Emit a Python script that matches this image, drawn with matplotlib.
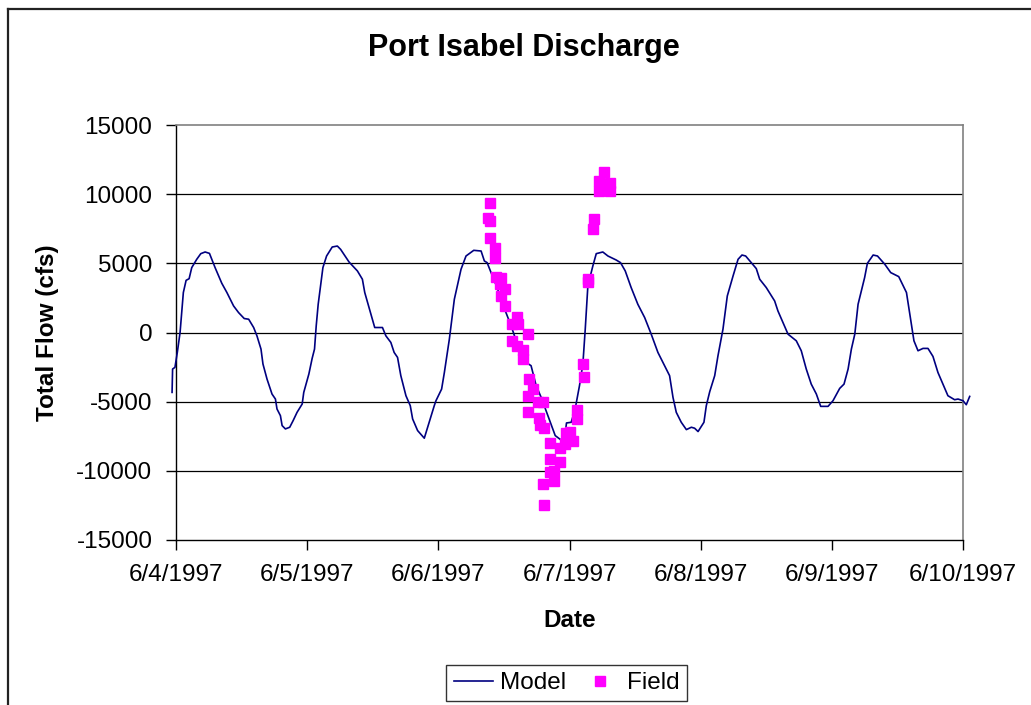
import matplotlib
matplotlib.use("Agg")
import matplotlib.pyplot as plt
from matplotlib.lines import Line2D

plt.rcParams['font.family'] = ['Liberation Sans', 'DejaVu Sans']
plt.rcParams['axes.unicode_minus'] = False

# model series: time in days after 6/4/1997 00:00, total flow in cfs
model_t = [-0.03, -0.026, -0.008, 0.01, 0.031, 0.056, 0.077, 0.10, 0.12, 0.158,
           0.189, 0.222, 0.255, 0.298, 0.349, 0.388, 0.42, 0.439, 0.477, 0.52,
           0.554, 0.592, 0.617, 0.648, 0.663, 0.694, 0.732, 0.758, 0.77, 0.796,
           0.809, 0.834, 0.867, 0.893, 0.923, 0.962, 0.974, 1.013, 1.038, 1.056,
           1.069, 1.084, 1.12, 1.148, 1.191, 1.23, 1.255, 1.319, 1.383, 1.421,
           1.439, 1.472, 1.515, 1.574, 1.6, 1.638, 1.663, 1.689, 1.714, 1.753,
           1.786, 1.804, 1.842, 1.893, 1.93, 1.969, 1.982, 2.025, 2.046, 2.084,
           2.122, 2.173, 2.211, 2.27, 2.326, 2.351, 2.372, 2.402, 2.448, 2.491,
           2.555, 2.606, 2.669, 2.707, 2.746, 2.784, 2.835, 2.891, 2.931, 2.962,
           2.977, 3.013, 3.043, 3.076, 3.102, 3.12, 3.14, 3.178, 3.204, 3.254,
           3.293, 3.356, 3.389, 3.425, 3.47, 3.521, 3.573, 3.623, 3.674, 3.725,
           3.763, 3.789, 3.814, 3.852, 3.891, 3.929, 3.954, 3.98, 4.025, 4.043,
           4.069, 4.107, 4.132, 4.17, 4.203, 4.247, 4.285, 4.315, 4.343, 4.386,
           4.424, 4.45, 4.5, 4.564, 4.589, 4.666, 4.729, 4.767, 4.805, 4.843,
           4.882, 4.915, 4.971, 5.009, 5.06, 5.093, 5.124, 5.149, 5.175, 5.2,
           5.25, 5.271, 5.315, 5.348, 5.404, 5.449, 5.51, 5.569, 5.593, 5.626,
           5.657, 5.695, 5.733, 5.771, 5.809, 5.847, 5.885, 5.936, 5.962, 6.0,
           6.025, 6.051]
model_q = [-4330, -2640, -2520, -1440, 0, 2890, 3770, 3890, 4690, 5290,
           5700, 5820, 5720, 4690, 3560, 2890, 2280, 1920, 1440, 1010,
           960, 360, -240, -1200, -2280, -3370, -4450, -4810, -5530, -6010,
           -6730, -6970, -6850, -6370, -5770, -5170, -4330, -3000, -1870, -1200,
           480, 2040, 4690, 5530, 6180, 6250, 6010, 5100, 4450, 3850,
           2890, 1800, 360, 360, -240, -720, -1440, -1800, -3120, -4570,
           -5290, -6250, -7090, -7640, -6490, -5290, -4930, -4090, -2890, -480,
           2400, 4570, 5530, 5940, 5890, 5170, 5050, 4330, 3250, 2040,
           480, -960, -2160, -2400, -3850, -4690, -6010, -7450, -7740, -7690,
           -6540, -6490, -5530, -3850, -2280, 240, 3370, 4810, 5700, 5820,
           5530, 5240, 5050, 4450, 3250, 2040, 1080, -120, -1440, -2400,
           -3120, -4690, -5770, -6490, -7020, -6850, -6920, -7160, -6490, -5290,
           -4280, -3120, -1680, 240, 2640, 4090, 5290, 5600, 5530, 5050,
           4620, 3850, 3250, 2280, 1560, -120, -600, -1320, -2640, -3730,
           -4450, -5340, -5340, -4930, -4040, -3730, -2640, -1200, -120, 2040,
           3970, 5000, 5600, 5530, 4930, 4330, 4040, 2890, 1440, -600,
           -1320, -1150, -1150, -1730, -2890, -3730, -4570, -4860, -4810, -4930,
           -5220, -4620]

# field measurements
field_t = [2.382, 2.395, 2.397, 2.395, 2.43, 2.433, 2.44, 2.473, 2.479, 2.479,
           2.512, 2.512, 2.56, 2.563, 2.601, 2.601, 2.606, 2.644, 2.644, 2.683,
           2.683, 2.687, 2.695, 2.725, 2.759, 2.767, 2.772, 2.797, 2.801, 2.804,
           2.805, 2.851, 2.854, 2.855, 2.882, 2.885, 2.931, 2.931, 2.969, 2.974,
           3.007, 3.026, 3.059, 3.059, 3.102, 3.107, 3.14, 3.14, 3.178, 3.186,
           3.224, 3.224, 3.262, 3.305, 3.305]
field_q = [8300, 9330, 8060, 6810, 6140, 5420, 3980, 3500, 3910, 2610,
           3140, 1940, -580, 620, 1100, -940, 620, -1300, -1890, -140,
           -5730, -4580, -3380, -4050, -5060, -6210, -6690, -5010, -10940, -12450,
           -6930, -8010, -9140, -10050, -10000, -10770, -9330, -8370, -8080, -7290,
           -7170, -7840, -5610, -6260, -2250, -3210, 3860, 3620, 7510, 8180,
           10220, 10940, 11580, 10820, 10260]

tick_days = [0, 1, 2, 3, 4, 5, 6]
tick_dates = ['6/4/1997', '6/5/1997', '6/6/1997', '6/7/1997',
              '6/8/1997', '6/9/1997', '6/10/1997']
y_ticks = [-15000, -10000, -5000, 0, 5000, 10000, 15000]

fig = plt.figure(figsize=(10.31, 7.05), dpi=100)
ax = fig.add_axes([176 / 1031, 165 / 705, 787 / 1031, 415 / 705])

for yv in y_ticks[1:-1]:
    ax.axhline(yv, color='black', lw=0.9, zorder=1)

ax.plot(model_t, model_q, color='#000080', lw=1.2, label='Model',
        clip_on=False, zorder=3)
ax.plot(field_t, field_q, ls='none', marker='s', ms=7, color='#FF00FF',
        mec='#FF00FF', label='Field', zorder=4)

ax.set_xlim(0, 6)
ax.set_ylim(-15000, 15000)
ax.set_xticks(tick_days)
ax.set_xticklabels(tick_dates)
ax.set_yticks(y_ticks)
ax.set_yticklabels([str(v) for v in y_ticks])
ax.tick_params(labelsize=17.5, length=7, width=1, direction='out', pad=10,
               colors='black')

for s in ['top', 'right']:
    ax.spines[s].set_color('#808080')
    ax.spines[s].set_linewidth(1.2)
for s in ['left', 'bottom']:
    ax.spines[s].set_color('black')
    ax.spines[s].set_linewidth(1.0)

ax.set_xlabel('Date', fontsize=17.5, fontweight='bold', va='center')
ax.xaxis.set_label_coords(0.5, -0.193)
ax.set_ylabel('Total Flow (cfs)', fontsize=17.5, fontweight='bold', va='center')
ax.yaxis.set_label_coords(-0.163, 0.5)

fig.text(0.508, 0.932, 'Port Isabel Discharge', fontsize=22,
         fontweight='bold', ha='center', va='center')

leg = ax.legend(loc='center', bbox_to_anchor=(566.5 / 1031, 22 / 705),
                bbox_transform=fig.transFigure, ncol=2, fontsize=17.5,
                frameon=True, fancybox=False, handlelength=1.6,
                columnspacing=0.6, borderpad=0.3, handletextpad=0.3,
                borderaxespad=0)
leg.get_frame().set_edgecolor('black')
leg.get_frame().set_linewidth(1.0)

# outer chart border (left and top edges visible)
fig.add_artist(Line2D([8 / 1031, 8 / 1031], [0, 1 - 9 / 705],
                      transform=fig.transFigure, color='#222222', lw=1.6))
fig.add_artist(Line2D([8 / 1031, 1], [1 - 9 / 705, 1 - 9 / 705],
                      transform=fig.transFigure, color='#222222', lw=1.6))

fig.savefig('out.png', dpi=100)
